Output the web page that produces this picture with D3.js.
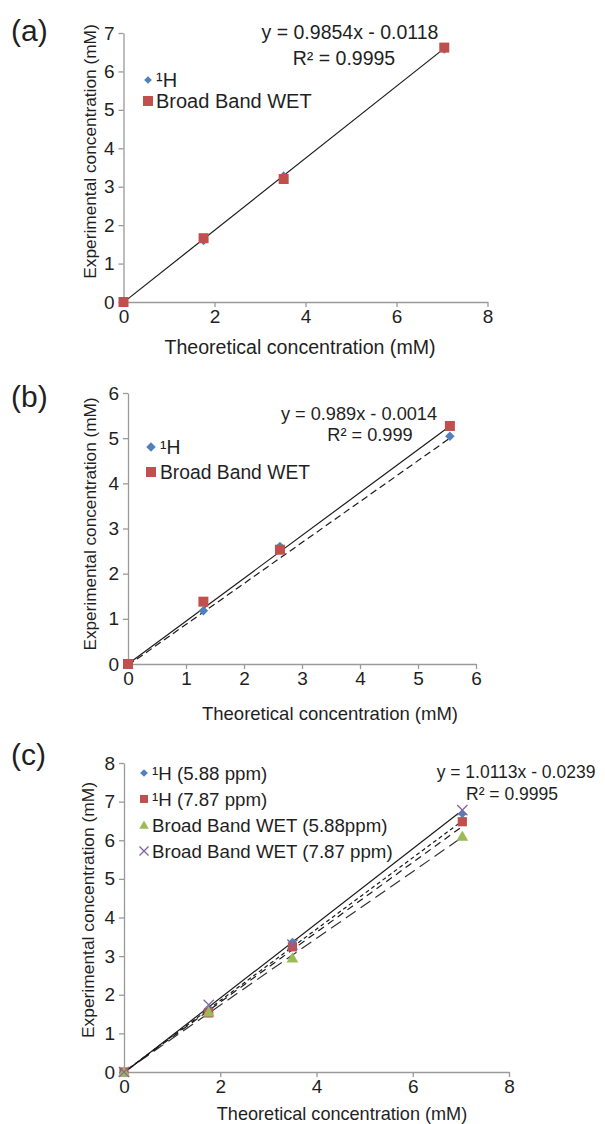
<!DOCTYPE html>
<html>
<head>
<meta charset="utf-8">
<script src="https://cdn.jsdelivr.net/npm/d3@7"></script>
<style>
  body { margin: 0; background: #fff; }
  text { font-family: "Liberation Sans", Arial, sans-serif; fill: #1f1f1f; }
</style>
</head>
<body>
<svg width="605" height="1124"></svg>
<script>
// ---- panel (a) data ----
var xA = [0, 1.76, 3.52, 7.05];
var hA = [0, 1.58, 3.30, 6.56];
var wetA = [0, 1.66, 3.20, 6.62];
var fitA = [[0, -0.01], [7.05, 6.6]];
var xTicksA = [0, 2, 4, 6, 8];
var yTicksA = [0, 1, 2, 3, 4, 5, 6, 7];
var legendA = ["\u00b9H", "Broad Band WET"];
var eqA = ["y = 0.9854x - 0.0118", "R\u00b2 = 0.9995"];

// ---- panel (b) data ----
var xB = [0, 1.3, 2.62, 5.55];
var hB = [0, 1.18, 2.60, 5.04];
var wetB = [0, 1.38, 2.53, 5.27];
var fitB_solid = [[0, 0], [5.5, 5.22]];
var fitB_dash = [[0, -0.03], [5.55, 5.0]];
var xTicksB = [0, 1, 2, 3, 4, 5, 6];
var yTicksB = [0, 1, 2, 3, 4, 5, 6];
var legendB = ["\u00b9H", "Broad Band WET"];
var eqB = ["y = 0.989x - 0.0014", "R\u00b2 = 0.999"];

// ---- panel (c) data ----
var xC = [0, 1.76, 3.5, 7.03];
var h588 = [0, 1.60, 3.37, 6.68];
var h787 = [0, 1.53, 3.24, 6.48];
var wet588 = [0, 1.55, 2.95, 6.10];
var wet787 = [0, 1.74, 3.30, 6.78];
var fitC_solid = [[0, -0.02], [6.95, 6.7]];
var fitC_short = [[0, 0], [7.03, 6.5]];
var fitC_mid = [[0, 0], [7.0, 6.33]];
var fitC_long = [[0, 0], [7.03, 6.08]];
var xTicksC = [0, 2, 4, 6, 8];
var yTicksC = [0, 1, 2, 3, 4, 5, 6, 7, 8];
var legendC = ["\u00b9H (5.88 ppm)", "\u00b9H (7.87 ppm)", "Broad Band WET (5.88ppm)", "Broad Band WET (7.87 ppm)"];
var eqC = ["y = 1.0113x - 0.0239", "R\u00b2 = 0.9995"];

var BLUE = "#4f81bd", RED = "#c0504d", GREEN = "#9bbb59", PURPLE = "#8064a2", AXIS = "#9a9a9a";

var svg = d3.select("svg");
svg.append("rect").attr("width", 605).attr("height", 1124).attr("fill", "#fff");

// text placed by its vertical centre
function txt(g, s, x, cy, size, anchor) {
  return g.append("text").text(s)
    .attr("x", x).attr("y", cy + 0.36 * size)
    .attr("font-size", size)
    .attr("text-anchor", anchor || "start");
}

function marker(g, kind, x, y, sz) {
  if (kind == "diamond") {
    g.append("path").attr("d", d3.symbol(d3.symbolSquare, sz)())
      .attr("transform", "translate(" + x + "," + y + ") rotate(45)").attr("fill", BLUE);
  } else if (kind == "square") {
    g.append("path").attr("d", d3.symbol(d3.symbolSquare, sz)())
      .attr("transform", "translate(" + x + "," + y + ")").attr("fill", RED);
  } else if (kind == "triangle") {
    g.append("path").attr("d", d3.symbol(d3.symbolTriangle, sz)())
      .attr("transform", "translate(" + x + "," + (y + 1) + ")").attr("fill", GREEN);
  } else {
    g.append("path").attr("d", d3.symbol(d3.symbolX, sz)())
      .attr("transform", "translate(" + x + "," + y + ")")
      .attr("fill", "none").attr("stroke", PURPLE).attr("stroke-width", 1.3);
  }
}

function panel(p) {
  var g = svg.append("g");
  var x = d3.scaleLinear().domain([0, p.xmax]).range([p.x0, p.x1]);
  var y = d3.scaleLinear().domain([0, p.ymax]).range([p.y0, p.y1]);

  var ax = g.append("g").attr("transform", "translate(0," + p.y0 + ")")
    .call(d3.axisBottom(x).tickValues(p.xticks).tickSize(5).tickSizeOuter(0).tickPadding(3).tickFormat(d3.format("d")));
  var ay = g.append("g").attr("transform", "translate(" + x(0) + ",0)")
    .call(d3.axisLeft(y).tickValues(p.yticks).tickSize(5).tickSizeOuter(0).tickPadding(4).tickFormat(d3.format("d")));
  [ax, ay].forEach(function(a) {
    a.select(".domain").attr("stroke", AXIS).attr("stroke-width", 1.3);
    a.selectAll(".tick line").attr("stroke", AXIS).attr("stroke-width", 1.3);
    a.selectAll(".tick text").attr("font-size", p.tickSize).attr("fill", "#1f1f1f")
      .attr("font-family", "Liberation Sans, Arial, sans-serif");
  });

  // trend lines
  var line = d3.line().x(function(d) { return x(d[0]); }).y(function(d) { return y(d[1]); });
  p.fits.forEach(function(f) {
    g.append("path").attr("d", line(f.pts)).attr("fill", "none")
      .attr("stroke", f.color || "#1a1a1a").attr("stroke-width", 1.2)
      .attr("stroke-dasharray", f.dash || null);
  });

  // points
  p.series.forEach(function(s) {
    s.x.forEach(function(xv, i) { marker(g, s.kind, x(xv), y(s.y[i]), s.size); });
  });

  // legend
  p.legend.items.forEach(function(name, i) {
    var cy = p.legend.rows[i];
    var s = p.series[i];
    marker(g, s.kind, p.legend.mx, cy, s.legSize || s.size);
    txt(g, name, p.legend.tx, cy, p.legend.size);
  });

  // equation
  txt(g, p.eq.lines[0], p.eq.c1[0], p.eq.c1[1], p.eq.size, "middle");
  txt(g, p.eq.lines[1], p.eq.c2[0], p.eq.c2[1], p.eq.size, "middle");

  // titles
  txt(g, "Theoretical concentration (mM)", p.xTitle[0], p.xTitle[1], p.xTitle[2], "middle");
  g.append("text").text("Experimental concentration (mM)")
    .attr("font-size", p.yTitle[2]).attr("text-anchor", "middle")
    .attr("transform", "translate(" + p.yTitle[0] + "," + p.yTitle[1] + ") rotate(-90)");
  txt(g, p.label, 11, p.labelY, 30);
}

panel({
  xmax: 8, ymax: 7, x0: 123.5, x1: 487.5, y0: 302, y1: 33,
  xticks: xTicksA, yticks: yTicksA, tickSize: 19,
  fits: [{ pts: fitA }],
  series: [
    { x: xA, y: hA, kind: "diamond", size: 30 },
    { x: xA, y: wetA, kind: "square", size: 100 }
  ],
  legend: { items: legendA, rows: [80, 101], mx: 148, tx: 156, size: 20 },
  eq: { lines: eqA, c1: [350, 32], c2: [344, 58], size: 19.5 },
  xTitle: [300, 347, 19.6],
  yTitle: [96, 151.5, 17.3],
  label: "(a)", labelY: 30
});

panel({
  xmax: 6, ymax: 6, x0: 128, x1: 476, y0: 664, y1: 393,
  xticks: xTicksB, yticks: yTicksB, tickSize: 19,
  fits: [{ pts: fitB_solid }, { pts: fitB_dash, dash: "7,4" }],
  series: [
    { x: xB, y: hB, kind: "diamond", size: 45 },
    { x: xB, y: wetB, kind: "square", size: 100 }
  ],
  legend: { items: legendB, rows: [447, 472], mx: 151, tx: 160, size: 19.3 },
  eq: { lines: eqB, c1: [359, 413.5], c2: [370, 434], size: 18.2 },
  xTitle: [330, 713, 18.5],
  yTitle: [96, 524, 17.2],
  label: "(b)", labelY: 396
});

panel({
  xmax: 8, ymax: 8, x0: 124, x1: 509, y0: 1072, y1: 763,
  xticks: xTicksC, yticks: yTicksC, tickSize: 19,
  fits: [
    { pts: fitC_long, dash: "12,6", color: "#333" },
    { pts: fitC_mid, dash: "7,5" },
    { pts: fitC_short, dash: "4,3" },
    { pts: fitC_solid }
  ],
  series: [
    { x: xC, y: h588, kind: "diamond", size: 35, legSize: 30 },
    { x: xC, y: h787, kind: "square", size: 85, legSize: 64 },
    { x: xC, y: wet588, kind: "triangle", size: 60, legSize: 40 },
    { x: xC, y: wet787, kind: "x", size: 70, legSize: 55 }
  ],
  legend: { items: legendC, rows: [773, 799, 825, 851], mx: 144, tx: 152, size: 18.7 },
  eq: { lines: eqC, c1: [516, 771.5], c2: [512, 793.5], size: 17.5 },
  xTitle: [342, 1113, 18.1],
  yTitle: [94, 910, 17.4],
  label: "(c)", labelY: 754
});
</script>
</body>
</html>
